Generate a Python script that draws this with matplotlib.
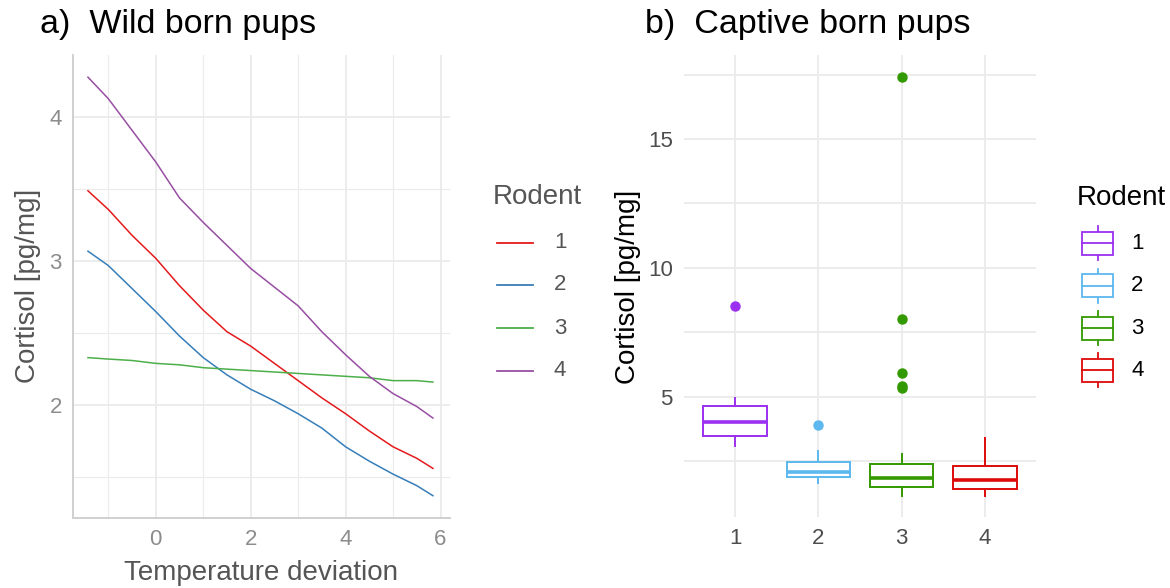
import numpy as np
import matplotlib.pyplot as plt
from matplotlib.lines import Line2D
from matplotlib.patches import Rectangle

plt.rcParams['font.family'] = ['Liberation Sans', 'DejaVu Sans']

# ---- panel a: predicted cortisol vs temperature deviation ----
temp_dev = [-1.43, -1, -0.5, 0, 0.5, 1, 1.5, 2, 2.5, 3, 3.5, 4, 4.5, 5, 5.5, 5.84]
wild_lines = {
    "1": [3.49, 3.36, 3.18, 3.02, 2.83, 2.66, 2.51, 2.41, 2.29, 2.17, 2.05, 1.94, 1.82, 1.71, 1.63, 1.56],
    "2": [3.07, 2.97, 2.81, 2.65, 2.48, 2.33, 2.21, 2.11, 2.03, 1.94, 1.84, 1.71, 1.61, 1.52, 1.44, 1.37],
    "3": [2.33, 2.32, 2.31, 2.29, 2.28, 2.26, 2.25, 2.24, 2.23, 2.22, 2.21, 2.20, 2.19, 2.17, 2.17, 2.16],
    "4": [4.28, 4.13, 3.91, 3.69, 3.44, 3.27, 3.11, 2.95, 2.82, 2.69, 2.51, 2.35, 2.20, 2.08, 1.99, 1.91],
}
wild_colors = ["#E41A1C", "#377EB8", "#4DAF4A", "#984EA3"]

# ---- panel b: boxplot stats per rodent ----
rodents = ["1", "2", "3", "4"]
q1 = [3.47, 1.88, 1.51, 1.43]
med = [4.01, 2.08, 1.85, 1.77]
q3 = [4.64, 2.45, 2.39, 2.32]
whislo = [3.10, 1.66, 1.15, 1.15]
whishi = [4.94, 2.90, 2.78, 3.41]
outliers = [[8.52], [3.90], [17.41, 8.02, 5.93, 5.43, 5.32], []]
captive_colors = ["#9B30F0", "#5CB8EE", "#339900", "#DD0A0A"]

W, H = 1170, 588
fig = plt.figure(figsize=(W / 100, H / 100), dpi=100)

def fx(x):
    return x / W

def fy(y):
    return 1 - y / H

grid_col = "#EBEBEB"

# panel a
ax1 = fig.add_axes([fx(73), fy(518), fx(450 - 73), (518 - 55) / H])
for (lab, vals), c in zip(wild_lines.items(), wild_colors):
    ax1.plot(temp_dev, vals, color=c, lw=1.1, zorder=3)
ax1.set_xlim(-1.745, 6.2)
ax1.set_ylim(1.215, 4.434)
ax1.set_xticks([0, 2, 4, 6])
ax1.set_xticks([-1, 1, 3, 5], minor=True)
ax1.set_yticks([2, 3, 4])
ax1.set_yticks([1.5, 2.5, 3.5], minor=True)
ax1.grid(which="major", color=grid_col, lw=1.3, zorder=0)
ax1.grid(which="minor", color=grid_col, lw=0.8, zorder=0)
ax1.tick_params(which="both", length=0, labelsize=16, labelcolor="#8C8C8C", pad=8)
for s in ["top", "right"]:
    ax1.spines[s].set_visible(False)
for s in ["left", "bottom"]:
    ax1.spines[s].set_color("#D0D0D0")
    ax1.spines[s].set_linewidth(1.4)
ax1.set_axisbelow(True)

fig.text(fx(40), fy(25), "a)  Wild born pups", fontsize=24.5, ha="left", va="center")
fig.text(fx(28), fy(286), "Cortisol [pg/mg]", fontsize=20, rotation=90,
         ha="center", va="center", color="#555555")
fig.text(fx(261), fy(573), "Temperature deviation", fontsize=20,
         ha="center", va="center", color="#555555")

# legend a
fig.text(fx(493), fy(197), "Rodent", fontsize=20, ha="left", va="center", color="#555555")
rows = [242.7, 285, 328.3, 371]
for lab, c, ry in zip(wild_lines.keys(), wild_colors, rows):
    fig.add_artist(Line2D([fx(497), fx(533)], [fy(ry), fy(ry)], color=c, lw=1.3))
    fig.text(fx(554), fy(ry), lab, fontsize=16, ha="left", va="center", color="#555555")

# panel b
ax2 = fig.add_axes([fx(684), fy(516.7), fx(1036 - 684), (516.7 - 55) / H])
pos = np.arange(1, len(rodents) + 1)
for i, c in enumerate(captive_colors):
    st = [dict(med=med[i], q1=q1[i], q3=q3[i], whislo=whislo[i], whishi=whishi[i],
               fliers=outliers[i], label=rodents[i])]
    ax2.bxp(st, positions=[pos[i]], widths=0.76, showcaps=False, patch_artist=True,
            boxprops=dict(facecolor="white", edgecolor=c, lw=1.4),
            whiskerprops=dict(color=c, lw=1.4),
            medianprops=dict(color=c, lw=2.6),
            flierprops=dict(marker="o", markerfacecolor=c, markeredgecolor=c, markersize=6.5),
            zorder=3)
ax2.set_xlim(0.388, 4.61)
ax2.set_ylim(0.34, 18.26)
ax2.set_xticks(pos)
ax2.set_xticklabels(rodents)
ax2.set_yticks([5, 10, 15])
ax2.set_yticks([2.5, 7.5, 12.5, 17.5], minor=True)
ax2.grid(axis="x", which="major", color=grid_col, lw=1.3, zorder=0)
ax2.grid(axis="y", which="major", color=grid_col, lw=1.3, zorder=0)
ax2.grid(axis="y", which="minor", color=grid_col, lw=1.3, zorder=0)
ax2.tick_params(which="both", length=0, labelsize=16, labelcolor="#4D4D4D", pad=8)
for s in ax2.spines.values():
    s.set_visible(False)
ax2.set_axisbelow(True)

fig.text(fx(645), fy(25), "b)  Captive born pups", fontsize=24.5, ha="left", va="center")
fig.text(fx(628), fy(287), "Cortisol [pg/mg]", fontsize=20, rotation=90,
         ha="center", va="center", color="black")

# legend b: whisker line behind a white box, median across
fig.text(fx(1077), fy(198), "Rodent", fontsize=20, ha="left", va="center")
rows_b = [243.3, 285.7, 328.3, 370]
kx0, kx1 = 1082, 1113
for lab, c, ry in zip(rodents, captive_colors, rows_b):
    kxm = (kx0 + kx1) / 2
    fig.add_artist(Line2D([fx(kxm), fx(kxm)], [fy(ry - 17), fy(ry + 17)],
                          color=c, lw=1.3, zorder=1))
    fig.add_artist(Rectangle((fx(kx0), fy(ry + 11.5)), fx(kx1 - kx0), 23 / H,
                             facecolor="white", edgecolor=c, lw=1.3, zorder=2))
    fig.add_artist(Line2D([fx(kx0), fx(kx1)], [fy(ry), fy(ry)], color=c, lw=1.3, zorder=3))
    fig.text(fx(1131), fy(ry), lab, fontsize=16, ha="left", va="center")

fig.savefig("out.png", dpi=100)
